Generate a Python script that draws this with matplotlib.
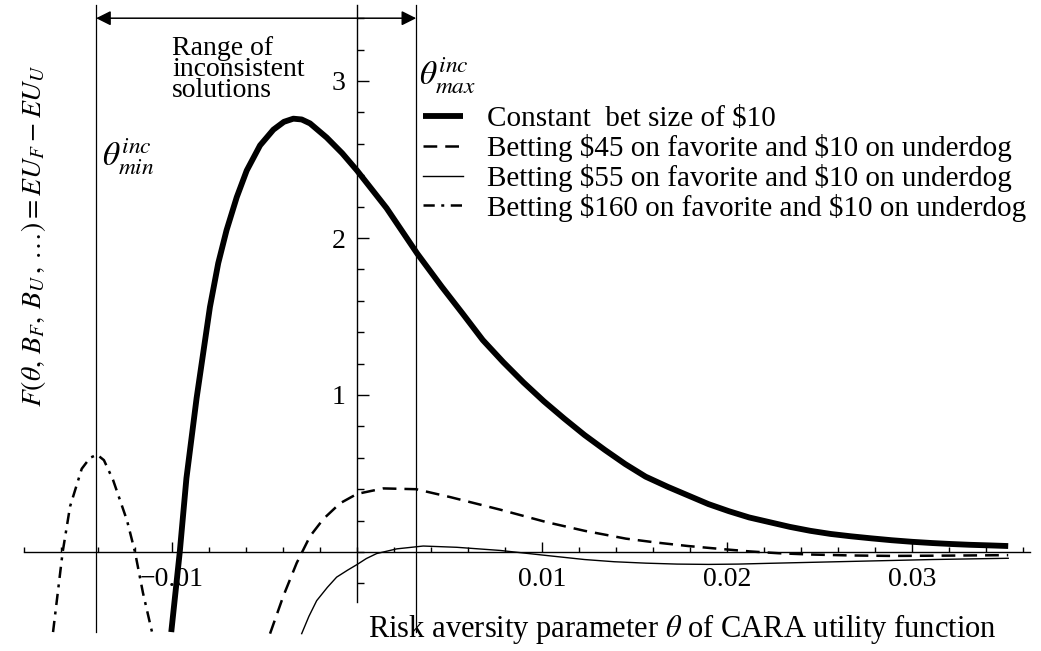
import matplotlib
matplotlib.use("Agg")
import numpy as np
import matplotlib.pyplot as plt
from matplotlib.ticker import FixedLocator

plt.rcParams["font.family"] = ["Liberation Serif", "DejaVu Serif"]
plt.rcParams["mathtext.fontset"] = "stix"

# ── Data ───────────────────────────────────────────────────────────────────
theta_const = [-0.01004, -0.00958, -0.00922, -0.00867, -0.00831, -0.00795, -0.0075,
               -0.00705, -0.0065, -0.00596, -0.00524, -0.00452, -0.00395, -0.00344,
               -0.00299, -0.00254, -0.00164, -0.0008, 0.0, 0.0016, 0.00326, 0.00458,
               0.0057, 0.0068, 0.0079, 0.009, 0.0101, 0.0112, 0.0123, 0.0134, 0.0145,
               0.0156, 0.0168, 0.0179, 0.019, 0.0201, 0.0212, 0.0223, 0.0234, 0.0245,
               0.0256, 0.0267, 0.0278, 0.0289, 0.03, 0.0311, 0.0321, 0.0331, 0.0342,
               0.0352]
F_const = [-0.51, 0.0, 0.47, 0.98, 1.27, 1.56, 1.84, 2.05, 2.26, 2.43, 2.59, 2.69, 2.74,
           2.76, 2.755, 2.73, 2.64, 2.54, 2.43, 2.19, 1.90, 1.69, 1.52, 1.35, 1.21,
           1.08, 0.96, 0.85, 0.745, 0.65, 0.56, 0.48, 0.415, 0.36, 0.305, 0.26,
           0.22, 0.19, 0.16, 0.135, 0.115, 0.10, 0.087, 0.075, 0.065, 0.057, 0.051,
           0.046, 0.042, 0.038]

theta_45 = [-0.0047, -0.00398, -0.00326, -0.00254, -0.00182, -0.00092, 0.0, 0.00142,
            0.00319, 0.00503, 0.00773, 0.01025, 0.0123, 0.01454, 0.0162, 0.0179,
            0.0196, 0.0212, 0.0228, 0.0245, 0.0267, 0.0289, 0.032, 0.0352]
F_45 = [-0.52, -0.28, -0.07, 0.10, 0.21, 0.31, 0.37, 0.405, 0.40, 0.35, 0.27, 0.19,
        0.135, 0.085, 0.06, 0.038, 0.02, 0.004, -0.008, -0.016, -0.022, -0.025,
        -0.023, -0.02]

theta_55 = [-0.00299, -0.0026, -0.00218, -0.0016, -0.0011, -0.0005, 0.0, 0.0005,
            0.00106, 0.00215, 0.00358, 0.00539, 0.00773, 0.01007, 0.0123, 0.0139,
            0.0156, 0.0173, 0.019, 0.0206, 0.0223, 0.0245, 0.0267, 0.0289, 0.0311,
            0.0331, 0.0352]
F_55 = [-0.52, -0.41, -0.31, -0.225, -0.16, -0.115, -0.08, -0.042, -0.01, 0.02, 0.038,
        0.03, 0.01, -0.02, -0.048, -0.062, -0.071, -0.077, -0.079, -0.077, -0.072,
        -0.066, -0.06, -0.054, -0.048, -0.044, -0.04]

theta_160 = [-0.01643, -0.01591, -0.01551, -0.01488, -0.01443, -0.01405, -0.01368,
             -0.01319, -0.01243, -0.0120, -0.01157, -0.01108]
F_160 = [-0.51, 0.0, 0.29, 0.53, 0.60, 0.62, 0.585, 0.46, 0.20, 0.0, -0.26, -0.51]

labels = ["Constant  bet size of \\$10",
          "Betting \\$45 on favorite and \\$10 on underdog",
          "Betting \\$55 on favorite and \\$10 on underdog",
          "Betting \\$160 on favorite and \\$10 on underdog"]

theta_min = -0.0141
theta_max = 0.0032

x_major = [-0.01, 0.01, 0.02, 0.03]
x_major_labels = ["\u22120.01", "0.01", "0.02", "0.03"]
y_major = [1, 2, 3]

# ── Figure ────────────────────────────────────────────────────────────────
W, H = 1041, 651
fig = plt.figure(figsize=(W / 100, H / 100), dpi=100)
ax = fig.add_axes([0, 0, 1, 1])
ax.set_xlim(-357 / 18500, (W - 357) / 18500)
ax.set_ylim((552 - H) / 157, 552 / 157)


def px(x, y):
    # pixel position in the 1041x651 picture -> figure fraction
    return x / W, 1 - y / H


ax.plot(theta_const, F_const, color="k", lw=4.2, solid_capstyle="butt",
        solid_joinstyle="round", label=labels[0])
ax.plot(theta_45, F_45, color="k", lw=1.8, dashes=(5.5, 3.2), label=labels[1])
ax.plot(theta_55, F_55, color="k", lw=1.0, label=labels[2])
ax.plot(theta_160, F_160, color="k", lw=1.8, dashes=(4.5, 2.6, 1.2, 2.6), label=labels[3])

# vertical boundary lines of the inconsistent range
for t in (theta_min, theta_max):
    ax.plot([t, t], [-0.51, 3.485], color="k", lw=0.9)

ax.annotate("", xy=(theta_min, 3.40), xytext=(theta_max, 3.40),
            arrowprops=dict(arrowstyle="<|-|>", color="k", lw=1.1,
                            mutation_scale=22, shrinkA=0, shrinkB=0))

# axes through the origin
for s in ("top", "right"):
    ax.spines[s].set_visible(False)
ax.spines["left"].set_position(("data", 0))
ax.spines["bottom"].set_position(("data", 0))
ax.spines["left"].set_bounds(-0.32, 3.485)
ax.spines["bottom"].set_bounds(-0.018, 0.0364)
ax.spines["left"].set_linewidth(1.0)
ax.spines["bottom"].set_linewidth(1.0)

ax.xaxis.set_major_locator(FixedLocator(x_major))
ax.set_xticklabels(x_major_labels)
ax.xaxis.set_minor_locator(FixedLocator(np.arange(-0.018, 0.0365, 0.002)))
ax.yaxis.set_major_locator(FixedLocator(y_major))
ax.yaxis.set_minor_locator(FixedLocator(np.arange(-0.2, 3.45, 0.2)))

ax.tick_params(axis="x", which="major", direction="in", length=7, width=1.0,
               pad=11, labelsize=20)
ax.tick_params(axis="x", which="minor", direction="in", length=3.8, width=1.0)
ax.tick_params(axis="y", which="major", direction="in", length=8.5, width=1.0,
               pad=8, labelsize=20)
ax.tick_params(axis="y", which="minor", direction="in", length=5, width=1.0)

# ── Text ──────────────────────────────────────────────────────────────────
fig.text(*px(368, 629), r"Risk aversity parameter $\theta$ of CARA utility function",
         fontsize=22, ha="left", va="center")
fig.text(*px(34, 236), r"$F(\theta,\, B_F,\, B_U\,,\, \ldots) = EU_F - EU_U$",
         fontsize=20, rotation=90, ha="center", va="center")
fig.text(*px(172, 36), "Range of\ninconsistent\nsolutions", fontsize=20,
         ha="left", va="top", linespacing=0.78)
fig.text(*px(102, 157), r"$\theta_{min}^{inc}$", fontsize=24, ha="left", va="center")
fig.text(*px(419, 76), r"$\theta_{max}^{inc}$", fontsize=24, ha="left", va="center")

ax.legend(loc="upper left", bbox_to_anchor=px(423, 106), bbox_transform=fig.transFigure,
          frameon=False, fontsize=21, handlelength=1.37, handletextpad=0.82,
          labelspacing=0.06, borderpad=0, borderaxespad=0)

plt.savefig("out.png", dpi=100)
